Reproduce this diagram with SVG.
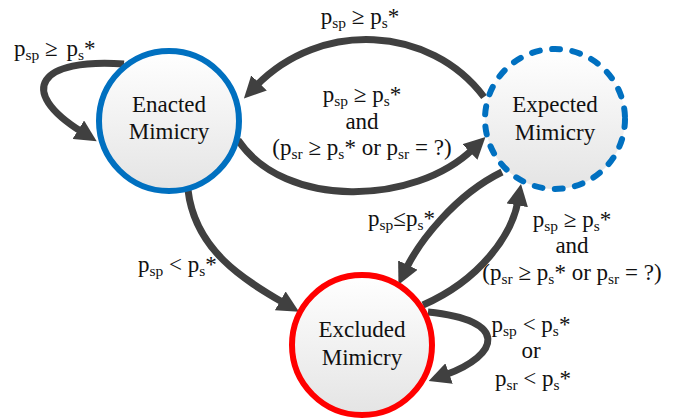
<svg xmlns="http://www.w3.org/2000/svg" width="680" height="420" viewBox="0 0 680 420">
<style>
text{font-family:"Liberation Serif","Times New Roman",serif;font-size:23px;fill:#111}
.sub{font-size:15.5px}
.c{text-anchor:middle}
.edge{fill:none;stroke:#404040;stroke-width:7;marker-end:url(#ah)}
.node{fill:url(#g)}
</style>
<defs>
<linearGradient id="g" x1="0" y1="0" x2="0" y2="1">
<stop offset="0" stop-color="#ffffff"/>
<stop offset="1" stop-color="#e4e4e4"/>
</linearGradient>
<marker id="ah" viewBox="0 0 10 10" refX="2" refY="5" markerWidth="3.1" markerHeight="3.1" orient="auto">
<path d="M0,0 L10,5 L0,10 z" fill="#404040"/>
</marker>
</defs>
<g id="connectors">
<path class="edge" d="M124 64 C40 58 15 90 82 132"/>
<path class="edge" d="M484 97 C430 25 320 20 256 86"/>
<path class="edge" d="M238 140 C285 210 415 205 473 149"/>
<path class="edge" d="M188 190 C195 250 244 280 284 303"/>
<path class="edge" d="M502 172 C455 195 419 242 406 269"/>
<path class="edge" d="M423 305 C480 280 512 235 518 201"/>
<path class="edge" d="M428 312 C510 320 500 355 445 375"/>
</g>
<g id="enacted">
<circle class="node" cx="169" cy="121" r="70" stroke="#0070C0" stroke-width="6"/>
<text class="c" x="169" y="112">Enacted</text>
<text class="c" x="169" y="139">Mimicry</text>
</g>
<g id="expected">
<circle class="node" cx="555" cy="119" r="70" stroke="#0070C0" stroke-width="6" stroke-dasharray="8 12.4" stroke-linecap="round"/>
<text class="c" x="555" y="112">Expected</text>
<text class="c" x="555" y="140">Mimicry</text>
</g>
<g id="excluded">
<circle class="node" cx="362" cy="345" r="70" stroke="#FF0000" stroke-width="6"/>
<text class="c" x="362" y="337">Excluded</text>
<text class="c" x="362" y="365">Mimicry</text>
</g>
<g id="labels">
<text x="14" y="56">p<tspan class="sub" dy="4">sp</tspan><tspan dy="-4"> ≥ </tspan><tspan dx="3">p</tspan><tspan class="sub" dy="4">s</tspan><tspan dy="-4">*</tspan></text>
<text class="c" x="360" y="24">p<tspan class="sub" dy="4">sp</tspan><tspan dy="-4"> ≥ p</tspan><tspan class="sub" dy="4">s</tspan><tspan dy="-4">*</tspan></text>
<text class="c" x="362" y="102">p<tspan class="sub" dy="4">sp</tspan><tspan dy="-4"> ≥ p</tspan><tspan class="sub" dy="4">s</tspan><tspan dy="-4">*</tspan></text>
<text class="c" x="362" y="129">and</text>
<text class="c" x="362" y="155">(p<tspan class="sub" dy="4">sr</tspan><tspan dy="-4"> ≥ p</tspan><tspan class="sub" dy="4">s</tspan><tspan dy="-4">* or p</tspan><tspan class="sub" dy="4">sr</tspan><tspan dy="-4"> = ?)</tspan></text>
<text x="138" y="272">p<tspan class="sub" dy="4">sp</tspan><tspan dy="-4"> &lt; p</tspan><tspan class="sub" dy="4">s</tspan><tspan dy="-4">*</tspan></text>
<text x="368" y="226">p<tspan class="sub" dy="4">sp</tspan><tspan dy="-4">≤p</tspan><tspan class="sub" dy="4">s</tspan><tspan dy="-4">*</tspan></text>
<text class="c" x="572" y="227">p<tspan class="sub" dy="4">sp</tspan><tspan dy="-4"> ≥ p</tspan><tspan class="sub" dy="4">s</tspan><tspan dy="-4">*</tspan></text>
<text class="c" x="572" y="253">and</text>
<text class="c" x="572" y="280">(p<tspan class="sub" dy="4">sr</tspan><tspan dy="-4"> ≥ p</tspan><tspan class="sub" dy="4">s</tspan><tspan dy="-4">* or p</tspan><tspan class="sub" dy="4">sr</tspan><tspan dy="-4"> = ?)</tspan></text>
<text class="c" x="531" y="332">p<tspan class="sub" dy="4">sp</tspan><tspan dy="-4"> &lt; p</tspan><tspan class="sub" dy="4">s</tspan><tspan dy="-4">*</tspan></text>
<text class="c" x="531" y="358">or</text>
<text class="c" x="533" y="386">p<tspan class="sub" dy="4">sr</tspan><tspan dy="-4"> &lt; p</tspan><tspan class="sub" dy="4">s</tspan><tspan dy="-4">*</tspan></text>
</g>
</svg>
